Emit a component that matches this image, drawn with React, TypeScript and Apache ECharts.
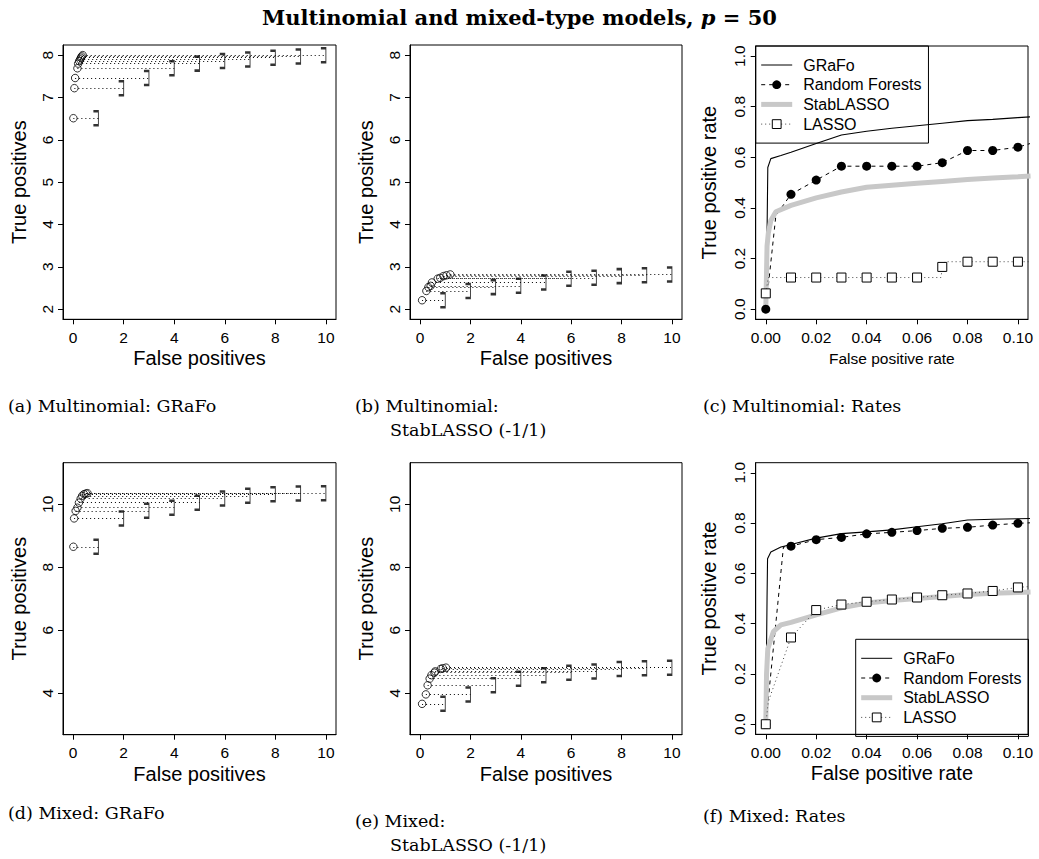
import { useEffect, useRef } from "react";
import * as echarts from "echarts";

// Thresholds on the false-positive axis (bracket positions)
const thresholds = [1, 2, 3, 4, 5, 6, 7, 8, 9, 10];

// (a) Multinomial: GRaFo — mean false / true positives per threshold
const multiGrafoFP = [0.01, 0.05, 0.08, 0.17, 0.2, 0.24, 0.28, 0.31, 0.34, 0.38];
const multiGrafoTP = [6.51, 7.22, 7.46, 7.69, 7.8, 7.86, 7.9, 7.94, 7.97, 8.0];

// (b) Multinomial: StabLASSO (-1/1)
const multiStabFP = [0.08, 0.25, 0.33, 0.42, 0.47, 0.7, 0.8, 0.93, 1.05, 1.2];
const multiStabTP = [2.21, 2.43, 2.52, 2.55, 2.63, 2.72, 2.74, 2.78, 2.8, 2.82];

// (d) Mixed: GRaFo
const mixedGrafoFP = [0.01, 0.04, 0.1, 0.17, 0.23, 0.3, 0.36, 0.43, 0.51, 0.57];
const mixedGrafoTP = [8.65, 9.55, 9.79, 9.89, 10.05, 10.18, 10.27, 10.32, 10.34, 10.35];

// (e) Mixed: StabLASSO (-1/1)
const mixedStabFP = [0.08, 0.23, 0.3, 0.38, 0.45, 0.57, 0.6, 0.82, 0.9, 1.03];
const mixedStabTP = [3.66, 3.96, 4.25, 4.46, 4.57, 4.65, 4.69, 4.77, 4.79, 4.81];

// Marker positions on the false positive rate axis
const markerFPR = [0, 0.01, 0.02, 0.03, 0.04, 0.05, 0.06, 0.07, 0.08, 0.09, 0.1];

// (c) Multinomial: rates
const multiGrafoRocFPR = [0, 0.0005, 0.0008, 0.002, 0.006, 0.01, 0.02, 0.03, 0.04, 0.05, 0.06, 0.07, 0.08, 0.09, 0.1, 0.105];
const multiGrafoRocTPR = [0, 0.3, 0.56, 0.595, 0.607, 0.62, 0.655, 0.688, 0.703, 0.715, 0.725, 0.735, 0.745, 0.75, 0.757, 0.76];
const multiRfTPR = [0, 0.454, 0.51, 0.565, 0.565, 0.565, 0.565, 0.579, 0.627, 0.627, 0.64];
const multiRfExtraFPR = [0.004, 0.11];
const multiRfExtraTPR = [0.37, 0.67];
const multiStabRocFPR = [0, 0.0005, 0.001, 0.002, 0.004, 0.01, 0.02, 0.03, 0.04, 0.05, 0.06, 0.07, 0.08, 0.09, 0.1, 0.105];
const multiStabRocTPR = [0, 0.25, 0.3, 0.35, 0.385, 0.41, 0.44, 0.463, 0.482, 0.49, 0.498, 0.505, 0.512, 0.518, 0.523, 0.526];
const multiLassoTPR = [0.0625, 0.125, 0.125, 0.125, 0.125, 0.125, 0.125, 0.167, 0.1875, 0.1875, 0.1875];
const multiLassoExtraFPR = [0.001, 0.0695, 0.071, 0.11];
const multiLassoExtraTPR = [0.125, 0.125, 0.1875, 0.1875];

// (f) Mixed: rates
const mixedGrafoRocFPR = [0, 0.0005, 0.0007, 0.002, 0.006, 0.01, 0.02, 0.03, 0.04, 0.05, 0.06, 0.07, 0.08, 0.09, 0.1, 0.105];
const mixedGrafoRocTPR = [0, 0.5, 0.658, 0.685, 0.705, 0.715, 0.74, 0.758, 0.765, 0.773, 0.785, 0.797, 0.812, 0.815, 0.817, 0.818];
const mixedRfTPR = [0, 0.708, 0.734, 0.743, 0.757, 0.763, 0.77, 0.779, 0.783, 0.792, 0.799];
const mixedRfExtraFPR = [0.007, 0.11];
const mixedRfExtraTPR = [0.705, 0.803];
const mixedStabRocFPR = [0, 0.0003, 0.0008, 0.003, 0.006, 0.01, 0.02, 0.03, 0.04, 0.05, 0.06, 0.07, 0.08, 0.09, 0.1, 0.105];
const mixedStabRocTPR = [0, 0.2, 0.3, 0.368, 0.395, 0.405, 0.435, 0.463, 0.482, 0.492, 0.5, 0.508, 0.516, 0.521, 0.524, 0.526];
const mixedLassoTPR = [0, 0.345, 0.454, 0.476, 0.487, 0.496, 0.504, 0.513, 0.52, 0.53, 0.544];
const mixedLassoExtraFPR = [0.001, 0.11];
const mixedLassoExtraTPR = [0.09, 0.552];

// Tick labels
const countTicksAB = [2, 3, 4, 5, 6, 7, 8];
const countTicksDE = [4, 6, 8, 10];
const fpTicks = [0, 2, 4, 6, 8, 10];
const rateTicksY = [0, 0.2, 0.4, 0.6, 0.8, 1.0];
const rateTicksX = [0, 0.02, 0.04, 0.06, 0.08, 0.1];

const legendNames = ["GRaFo", "Random Forests", "StabLASSO", "LASSO"];

const SANS = "Liberation Sans, Arial, Helvetica, sans-serif";
const SERIF = "DejaVu Serif, serif";

// plot boxes [left, top, width, height]
const boxes = [
  [63, 45, 273, 274.3],
  [410, 45, 272, 274.3],
  [755.7, 46, 272.3, 273.3],
  [63, 462.7, 273, 272],
  [410, 462.7, 272, 272],
  [755.7, 462.7, 272.3, 271.6],
];

function xAxisDef(i: number, rate: boolean, nameSize: number, nameGap: number) {
  const ticks = rate ? rateTicksX : fpTicks;
  return {
    type: "value",
    gridIndex: i,
    min: rate ? -0.004 : -0.4,
    max: rate ? 0.104 : 10.4,
    axisLine: { show: true, onZero: false, lineStyle: { color: "#000", width: 1 } },
    axisTick: { show: true, inside: false, length: 5, customValues: ticks, lineStyle: { color: "#000", width: 1 } },
    axisLabel: {
      customValues: ticks,
      formatter: (v: number) => (rate ? v.toFixed(2) : String(v)),
      fontSize: 15.5,
      fontFamily: SANS,
      color: "#000",
      margin: 10,
    },
    splitLine: { show: false },
    name: rate ? "False positive rate" : "False positives",
    nameLocation: "middle",
    nameGap,
    nameTextStyle: { fontSize: nameSize, fontFamily: SANS, color: "#000" },
  };
}

function yAxisDef(i: number, min: number, max: number, ticks: number[], rate: boolean, nameGap: number) {
  return {
    type: "value",
    gridIndex: i,
    min,
    max,
    axisLine: { show: true, onZero: false, lineStyle: { color: "#000", width: 1 } },
    axisTick: { show: true, inside: false, length: 5, customValues: ticks, lineStyle: { color: "#000", width: 1 } },
    axisLabel: {
      customValues: ticks,
      formatter: (v: number) => (rate ? v.toFixed(1) : String(v)),
      rotate: 90,
      fontSize: 15.5,
      fontFamily: SANS,
      color: "#000",
      margin: 8,
    },
    splitLine: { show: false },
    name: rate ? "True positive rate" : "True positives",
    nameLocation: "middle",
    nameGap,
    nameTextStyle: { fontSize: 20, fontFamily: SANS, color: "#000" },
  };
}

function thresholdSeries(g: number, fp: number[], tp: number[]) {
  return [
    {
      type: "lines",
      coordinateSystem: "cartesian2d",
      xAxisIndex: g,
      yAxisIndex: g,
      silent: true,
      lineStyle: { color: "#000", width: 1, type: [1, 3], opacity: 1 },
      data: thresholds.map((k, i) => ({ coords: [[fp[i], tp[i]], [k, tp[i]]] })),
    },
    {
      type: "scatter",
      xAxisIndex: g,
      yAxisIndex: g,
      silent: true,
      symbol: "circle",
      symbolSize: 7.5,
      itemStyle: { color: "none", borderColor: "#000", borderWidth: 1 },
      data: fp.map((x, i) => [x, tp[i]]),
    },
    {
      type: "scatter",
      xAxisIndex: g,
      yAxisIndex: g,
      silent: true,
      symbol: "path://M0,0L5,0L5,16L0,16",
      symbolSize: [5, 14],
      symbolOffset: [-2.5, 0],
      itemStyle: { color: "none", borderColor: "#000", borderWidth: 1.5 },
      data: thresholds.map((k, i) => [k, tp[i]]),
    },
  ];
}

function curve(xs: number[], ys: number[]) {
  return xs.map((x, i) => [x, ys[i]]);
}

function markedCurve(mx: number[], my: number[], ex: number[], ey: number[]) {
  const items: any[] = mx.map((x, i) => ({ value: [x, my[i]] }));
  ex.forEach((x, i) => items.push({ value: [x, ey[i]], symbol: "none" }));
  items.sort((a, b) => a.value[0] - b.value[0]);
  return items;
}

function rateSeries(
  g: number,
  grafoX: number[],
  grafoY: number[],
  rfY: number[],
  rfEx: number[],
  rfEy: number[],
  stabX: number[],
  stabY: number[],
  lassoY: number[],
  lassoEx: number[],
  lassoEy: number[]
) {
  const common = { xAxisIndex: g, yAxisIndex: g, silent: true, clip: true, showAllSymbol: true };
  return [
    {
      ...common,
      type: "line",
      name: "GRaFo",
      symbol: "none",
      lineStyle: { color: "#000", width: 1.1, type: "solid" },
      itemStyle: { color: "#000" },
      data: curve(grafoX, grafoY),
    },
    {
      ...common,
      type: "line",
      name: "Random Forests",
      symbol: "circle",
      symbolSize: 9,
      lineStyle: { color: "#000", width: 1, type: [4, 4] },
      itemStyle: { color: "#000", borderWidth: 0 },
      data: markedCurve(markerFPR, rfY, rfEx, rfEy),
    },
    {
      ...common,
      type: "line",
      name: "StabLASSO",
      symbol: "none",
      lineStyle: { color: "#c8c8c8", width: 5, type: "solid" },
      itemStyle: { color: "#c8c8c8" },
      data: curve(stabX, stabY),
    },
    {
      ...common,
      type: "line",
      name: "LASSO",
      symbol: "rect",
      symbolSize: 9,
      lineStyle: { color: "#444", width: 1, type: [1, 3] },
      itemStyle: { color: "#fff", borderColor: "#000", borderWidth: 1 },
      data: markedCurve(markerFPR, lassoY, lassoEx, lassoEy),
    },
  ];
}

function legendDef(left: number, top: number) {
  return {
    orient: "vertical",
    left,
    top,
    padding: [11, 7, 11, 3],
    itemGap: 3.7,
    itemWidth: 31,
    itemHeight: 11,
    borderColor: "#000",
    borderWidth: 1,
    borderRadius: 0,
    backgroundColor: "transparent",
    selectedMode: false,
    textStyle: { fontSize: 16, fontFamily: SANS, color: "#000", padding: [0, 0, 0, 6] },
    data: [
      { name: legendNames[0], itemStyle: { opacity: 0 }, lineStyle: { color: "#000", width: 1, type: "solid" } },
      { name: legendNames[1], itemStyle: { color: "#000", borderWidth: 0 }, lineStyle: { color: "#000", width: 1, type: [4, 4] } },
      { name: legendNames[2], itemStyle: { opacity: 0 }, lineStyle: { color: "#c8c8c8", width: 5, type: "solid" } },
      { name: legendNames[3], itemStyle: { color: "#fff", borderColor: "#000", borderWidth: 1 }, lineStyle: { color: "#444", width: 1, type: [1, 3] } },
    ],
  };
}

function caption(x: number, y: number, text: string) {
  return {
    type: "text",
    x,
    y,
    silent: true,
    style: { text, fontSize: 17.5, fontFamily: SERIF, fill: "#000", align: "left", verticalAlign: "middle" },
  };
}

export default function App() {
  const ref = useRef<HTMLDivElement>(null);

  useEffect(() => {
    if (!ref.current) return;
    const chart = echarts.init(ref.current, undefined, { renderer: "svg" });

    const grid = boxes.map(([left, top, width, height]) => ({
      left,
      top,
      width,
      height,
      show: true,
      borderColor: "#000",
      borderWidth: 1,
      backgroundColor: "transparent",
      containLabel: false,
    }));

    const xAxis = [
      xAxisDef(0, false, 20, 29),
      xAxisDef(1, false, 20, 29),
      xAxisDef(2, true, 15.5, 31),
      xAxisDef(3, false, 20, 29),
      xAxisDef(4, false, 20, 29),
      xAxisDef(5, true, 20, 28.5),
    ];
    const yAxis = [
      yAxisDef(0, 1.76, 8.24, countTicksAB, false, 34.5),
      yAxisDef(1, 1.76, 8.24, countTicksAB, false, 34.5),
      yAxisDef(2, -0.04, 1.04, rateTicksY, true, 36.5),
      yAxisDef(3, 2.68, 11.32, countTicksDE, false, 34.5),
      yAxisDef(4, 2.68, 11.32, countTicksDE, false, 34.5),
      yAxisDef(5, -0.04, 1.04, rateTicksY, true, 36.5),
    ];

    const series = [
      ...thresholdSeries(0, multiGrafoFP, multiGrafoTP),
      ...thresholdSeries(1, multiStabFP, multiStabTP),
      ...thresholdSeries(3, mixedGrafoFP, mixedGrafoTP),
      ...thresholdSeries(4, mixedStabFP, mixedStabTP),
      ...rateSeries(
        2,
        multiGrafoRocFPR,
        multiGrafoRocTPR,
        multiRfTPR,
        multiRfExtraFPR,
        multiRfExtraTPR,
        multiStabRocFPR,
        multiStabRocTPR,
        multiLassoTPR,
        multiLassoExtraFPR,
        multiLassoExtraTPR
      ),
      ...rateSeries(
        5,
        mixedGrafoRocFPR,
        mixedGrafoRocTPR,
        mixedRfTPR,
        mixedRfExtraFPR,
        mixedRfExtraTPR,
        mixedStabRocFPR,
        mixedStabRocTPR,
        mixedLassoTPR,
        mixedLassoExtraFPR,
        mixedLassoExtraTPR
      ),
    ];

    chart.setOption({
      animation: false,
      backgroundColor: "#fff",
      title: {
        text: "{b|Multinomial and mixed-type models, }{i|p}{r| = 50}",
        left: "center",
        top: 2,
        textStyle: {
          rich: {
            b: { fontSize: 21, fontWeight: "bold", fontFamily: SERIF, color: "#000" },
            i: { fontSize: 21, fontStyle: "italic", fontFamily: SERIF, color: "#000" },
            r: { fontSize: 21, fontFamily: SERIF, color: "#000" },
          },
        },
      },
      grid,
      xAxis,
      yAxis,
      legend: [legendDef(755.7, 46), legendDef(855.7, 639.3)],
      series,
      graphic: [
        caption(8, 406, "(a) Multinomial: GRaFo"),
        caption(355, 406, "(b) Multinomial:"),
        caption(390, 430, "StabLASSO (-1/1)"),
        caption(703, 406, "(c) Multinomial: Rates"),
        caption(8, 813, "(d) Mixed: GRaFo"),
        caption(355, 821, "(e) Mixed:"),
        caption(390, 845, "StabLASSO (-1/1)"),
        caption(703, 816, "(f) Mixed: Rates"),
      ],
    });

    return () => chart.dispose();
  }, []);

  return <div ref={ref} style={{ position: "fixed", left: 0, top: 0, width: 1039, height: 859 }} />;
}
